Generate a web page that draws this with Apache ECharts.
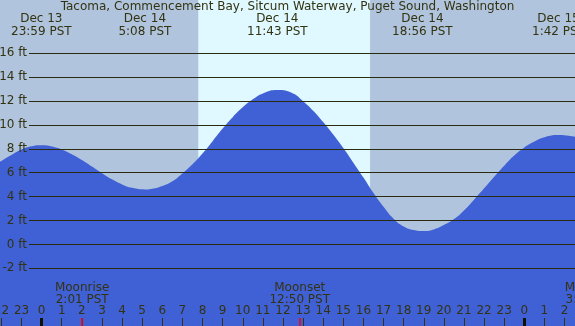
<!DOCTYPE html>
<html>
<head>
	<meta charset="utf-8">
	<title>Tacoma tide</title>
	<script src="https://cdn.jsdelivr.net/npm/echarts@6/dist/echarts.min.js"></script>
	<style>
		html, body { margin: 0; padding: 0; }
		#main { width: 575px; height: 326px; }
	</style>
</head>
<body>
	<div id="main"></div>
	<script>
		// hours counted from Dec 14 0:00, heights in ft
		var tideHours = [-2.1, -1.5, -1, -0.5, -0.02, 0.5, 1, 1.5, 2, 2.5, 3, 3.5, 4, 4.5, 5.13,
			5.5, 6, 6.5, 7, 7.5, 8, 8.5, 9, 9.5, 10, 10.5, 11, 11.72,
			12.5, 13, 13.5, 14, 14.5, 15, 15.5, 16, 16.5, 17, 17.5, 18, 18.5, 18.93,
			19.5, 20, 20.5, 21, 21.5, 22, 22.5, 23, 23.5, 24, 24.5, 25, 25.7, 26.2, 26.6];
		var tideFeet = [6.9, 7.5, 7.95, 8.22, 8.3, 8.2, 7.95, 7.55, 7.07, 6.52, 5.96, 5.45, 5.03, 4.74, 4.61,
			4.67, 4.9, 5.3, 5.95, 6.72, 7.62, 8.65, 9.7, 10.66, 11.48, 12.15, 12.65, 12.93,
			12.65, 12.0, 11.2, 10.25, 9.2, 8.07, 6.85, 5.6, 4.3, 3.15, 2.15, 1.5, 1.2, 1.12,
			1.26, 1.62, 2.12, 2.85, 3.75, 4.7, 5.67, 6.6, 7.45, 8.12, 8.62, 8.98, 9.16, 9.1, 9.0];

		// high / low labels along the top
		var peakHours = [-0.017, 5.133, 11.717, 18.933, 25.7];
		var peakDays = ['Dec 13', 'Dec 14', 'Dec 14', 'Dec 14', 'Dec 15'];
		var peakTimes = ['23:59 PST', '5:08 PST', '11:43 PST', '18:56 PST', '1:42 PST'];

		// moon events along the bottom
		var moonHours = [2.017, 12.833, 27.37];
		var moonNames = ['Moonrise', 'Moonset', 'Moonrise'];
		var moonTimes = ['2:01 PST', '12:50 PST', '3:22 PST'];

		var sunrise = 7.79, sunset = 16.33;

		var hourTicks = [];
		for (var h = -2; h <= 26; h++) hourTicks.push(h);
		var midnights = [0, 24];

		var ink = '#333311';
		var font = 'DejaVu Sans';
		var xMin = -2.07, xMax = 26.52;

		var tideData = tideHours.map(function (v, i) { return [v, tideFeet[i]]; });

		function bottomAxis(z, tick, label) {
			return {
				gridIndex: 0, type: 'value', position: 'bottom', min: xMin, max: xMax, z: z,
				axisLine: { show: false, onZero: false }, splitLine: { show: false },
				axisTick: tick, axisLabel: label || { show: false }
			};
		}

		var myChart = echarts.init(document.getElementById('main'));
		myChart.setOption({
			backgroundColor: '#b0c4de',
			animation: false,
			title: {
				text: 'Tacoma, Commencement Bay, Sitcum Waterway, Puget Sound, Washington',
				left: 'center', top: 1, padding: 0,
				textStyle: { color: ink, fontFamily: font, fontSize: 12, fontWeight: 'normal' }
			},
			grid: [
				{ left: 0, right: 0, top: 0, bottom: 0, outerBoundsMode: 'none', containLabel: false },
				{ left: 29, right: 0, top: 53.3, bottom: 57.7, outerBoundsMode: 'none', containLabel: false }
			],
			xAxis: [
				bottomAxis(5,
					{ show: true, inside: true, length: 8, customValues: hourTicks, lineStyle: { color: ink, width: 1 } },
					{
						inside: true, margin: 9, customValues: hourTicks, color: ink, fontFamily: font, fontSize: 12,
						formatter: function (v) { return String(((v % 24) + 24) % 24); }
					}),
				bottomAxis(6, { show: true, inside: true, length: 8, customValues: midnights, lineStyle: { color: '#111100', width: 3 } }),
				bottomAxis(7, { show: true, inside: true, length: 8, customValues: moonHours.slice(0, 2), lineStyle: { color: '#ff0000', width: 1.5 } }),
				{ gridIndex: 1, type: 'value', min: 0, max: 1, show: false }
			],
			yAxis: [
				{ gridIndex: 0, type: 'value', min: -6.83, max: 20.47, show: false },
				{
					gridIndex: 1, type: 'value', min: -2, max: 16, interval: 2, z: 5,
					axisLine: { show: false }, axisTick: { show: false },
					splitLine: { show: true, lineStyle: { color: '#2b2b10', width: 1 } },
					axisLabel: { margin: 2, color: ink, fontFamily: font, fontSize: 12, formatter: function (v) { return v + ' ft'; } }
				}
			],
			series: [
				{
					name: 'daylight', type: 'line', xAxisIndex: 0, yAxisIndex: 0, z: 1,
					data: [[xMin, 0]], symbol: 'none', lineStyle: { width: 0 },
					markArea: { silent: true, itemStyle: { color: '#e0f8ff' }, data: [[{ xAxis: sunrise }, { xAxis: sunset }]] }
				},
				{
					name: 'tide', type: 'line', xAxisIndex: 0, yAxisIndex: 0, z: 2,
					data: tideData, smooth: 0.5, symbol: 'none',
					lineStyle: { width: 0 },
					areaStyle: { color: '#4060d6', opacity: 1, origin: 'start' }
				}
			]
		});

		// text for the highs/lows and moon events, placed through the x scale
		var labels = [];
		function addText(txt, x, y) {
			labels.push({
				type: 'text', z: 10, silent: true,
				style: { text: txt, x: x, y: y, fill: ink, font: '12px "' + font + '"', align: 'center', verticalAlign: 'middle' }
			});
		}
		peakHours.forEach(function (h, i) {
			var x = myChart.convertToPixel({ xAxisIndex: 0 }, h);
			addText(peakDays[i], x, 19);
			addText(peakTimes[i], x, 31.5);
		});
		moonHours.forEach(function (h, i) {
			var x = myChart.convertToPixel({ xAxisIndex: 0 }, h);
			addText(moonNames[i], x, 287.5);
			addText(moonTimes[i], x, 299.5);
		});
		myChart.setOption({ graphic: labels });
	</script>
</body>
</html>
